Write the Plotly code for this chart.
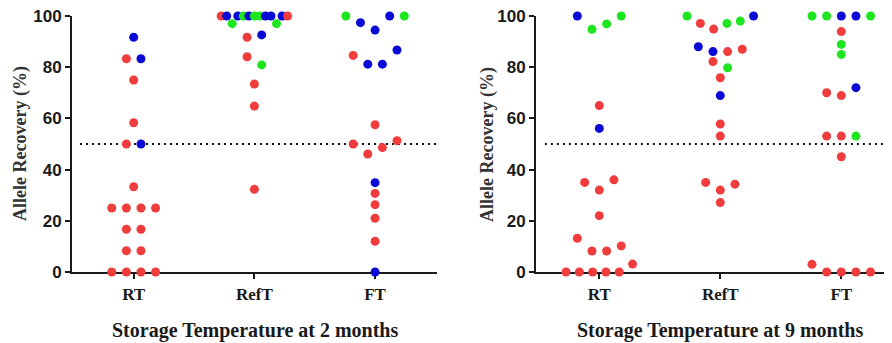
import plotly.graph_objects as go

# ---------------- data ----------------
CATEGORIES = ["RT", "RefT", "FT"]
PANEL_TITLES = ["Storage Temperature at 2 months", "Storage Temperature at 9 months"]
Y_TITLE = "Allele Recovery (%)"
Y_TICKS = [0, 20, 40, 60, 80, 100]
THRESHOLD = 50

# sample sets: S1 (red), S2 (blue), S3 (green)
# --- 2 months ---
RT_2M_VALUES = [91.7, 83.3, 83.3, 75.0, 58.3, 50.0, 50.0, 33.3,
                25.0, 25.0, 25.0, 25.0, 16.7, 16.7, 8.3, 8.3, 0, 0, 0, 0]
RT_2M_SETS = ["S2", "S1", "S2", "S1", "S1", "S1", "S2", "S1",
              "S1", "S1", "S1", "S1", "S1", "S1", "S1", "S1", "S1", "S1", "S1", "S1"]

REFT_2M_VALUES = [100, 100, 97.0, 100, 100, 100, 100, 100, 100, 100, 97.0, 100, 100,
                  91.7, 92.6, 84.1, 80.9, 73.4, 64.8, 32.3]
REFT_2M_SETS = ["S1", "S2", "S3", "S2", "S3", "S2", "S3", "S3", "S2", "S2", "S3", "S2", "S1",
                "S1", "S2", "S1", "S3", "S1", "S1", "S1"]

FT_2M_VALUES = [100, 97.4, 94.5, 100, 100,
                84.6, 81.2, 81.2, 86.7,
                57.5,
                50.0, 46.1, 48.6, 51.3,
                34.9, 30.7, 26.3, 21.0, 12.0, 0]
FT_2M_SETS = ["S3", "S2", "S2", "S2", "S3",
              "S1", "S2", "S2", "S2",
              "S1",
              "S1", "S1", "S1", "S1",
              "S2", "S1", "S1", "S1", "S1", "S2"]

# --- 9 months ---
RT_9M_VALUES = [100, 94.8, 96.9, 100,
                65.0, 56.1,
                35.0, 32.0, 36.0,
                22.0,
                13.2, 8.2, 8.2, 10.2,
                0, 0, 0, 0, 0, 3.1]
RT_9M_SETS = ["S2", "S3", "S3", "S3",
              "S1", "S2",
              "S1", "S1", "S1",
              "S1",
              "S1", "S1", "S1", "S1",
              "S1", "S1", "S1", "S1", "S1", "S1"]

REFT_9M_VALUES = [100, 97.1, 94.9, 97.1, 98.0, 100,
                  88.0, 86.1, 86.1, 87.0,
                  82.2, 79.8,
                  75.9, 68.9, 57.8, 53.1,
                  35.0, 32.0, 34.3,
                  27.1]
REFT_9M_SETS = ["S3", "S1", "S1", "S3", "S3", "S2",
                "S2", "S2", "S1", "S1",
                "S1", "S3",
                "S1", "S2", "S1", "S1",
                "S1", "S1", "S1",
                "S1"]

FT_9M_VALUES = [100, 100, 100, 100, 100,
                93.9, 88.9, 85.0,
                70.0, 68.9, 72.0,
                53.1, 53.1, 53.1,
                45.0,
                3.0, 0, 0, 0, 0]
FT_9M_SETS = ["S3", "S3", "S2", "S2", "S3",
              "S1", "S3", "S3",
              "S1", "S1", "S2",
              "S1", "S1", "S3",
              "S1",
              "S1", "S1", "S1", "S1", "S1"]

PANELS = [
    [(RT_2M_VALUES, RT_2M_SETS), (REFT_2M_VALUES, REFT_2M_SETS), (FT_2M_VALUES, FT_2M_SETS)],
    [(RT_9M_VALUES, RT_9M_SETS), (REFT_9M_VALUES, REFT_9M_SETS), (FT_9M_VALUES, FT_9M_SETS)],
]

# ---------------- style ----------------
SET_COLORS = {"S1": "#f03c3c", "S2": "#0a0ad6", "S3": "#1ee61e"}
AXIS_COLOR = "#1a1a1a"
PAGE_W, PAGE_H = 892, 343
BODY_MARGIN = 8                      # default page body margin
W, H = PAGE_W - BODY_MARGIN, PAGE_H - BODY_MARGIN


def px_x(px):   # page pixel -> paper fraction
    return (px - BODY_MARGIN) / W


def px_y(py):
    return 1 - (py - BODY_MARGIN) / H


def swarm_offsets(values, tol=3.6, step=0.121, max_width=0.55):
    """Centered rows of points whose values chain within `tol`."""
    order = sorted(range(len(values)), key=lambda i: -values[i])
    clusters = []
    for i in order:
        if clusters and values[clusters[-1][-1]] - values[i] <= tol:
            clusters[-1].append(i)
        else:
            clusters.append([i])
    offs = [0.0] * len(values)
    for c in clusters:
        c = sorted(c)
        n = len(c)
        s = step if n < 2 else min(step, max_width / (n - 1))
        for k, i in enumerate(c):
            offs[i] = (k - (n - 1) / 2) * s
    return offs


fig = go.Figure()

x_domains = [[px_x(72), px_x(437)], [px_x(536), 1.0]]
x_ranges = [[-0.511, 2.513], [-0.523, 2.419]]
y_domain = [px_y(272), px_y(16)]

for p, panel in enumerate(PANELS):
    xs, ys, cols = [], [], []
    for ci, (vals, sets) in enumerate(panel):
        offs = swarm_offsets(vals)
        for v, s, o in zip(vals, sets, offs):
            xs.append(ci + o)
            ys.append(v)
            cols.append(SET_COLORS[s])
    suffix = "" if p == 0 else "2"
    fig.add_trace(go.Scatter(
        x=xs, y=ys, mode="markers",
        marker=dict(size=9, color=cols, line=dict(width=0)),
        cliponaxis=False, showlegend=False, hoverinfo="y",
        xaxis="x" + suffix, yaxis="y" + suffix,
    ))

axis_common_x = dict(
    tickvals=[0, 1, 2], ticktext=CATEGORIES,
    showline=True, linecolor=AXIS_COLOR, linewidth=2,
    ticks="outside", ticklen=5, tickwidth=2, tickcolor=AXIS_COLOR,
    tickfont=dict(family="Liberation Serif", size=17, color=AXIS_COLOR, weight="bold"),
    ticklabelstandoff=1, ticklabeloverflow="allow",
    showgrid=False, zeroline=False, layer="below traces", fixedrange=True,
    automargin=False,
)
axis_common_y = dict(
    range=[0, 100], tickvals=Y_TICKS,
    showline=True, linecolor=AXIS_COLOR, linewidth=2,
    ticks="outside", ticklen=5, tickwidth=2, tickcolor=AXIS_COLOR,
    tickfont=dict(family="Liberation Sans", size=17, color=AXIS_COLOR, weight="bold"),
    ticklabeloverflow="allow",
    showgrid=False, zeroline=False, layer="below traces", domain=y_domain, fixedrange=True,
    automargin=False,
)

fig.update_layout(
    width=W, height=H,
    margin=dict(l=0, r=0, t=0, b=0),
    paper_bgcolor="white", plot_bgcolor="white",
    xaxis=dict(domain=x_domains[0], range=x_ranges[0], anchor="y", **axis_common_x),
    yaxis=dict(anchor="x", **axis_common_y),
    xaxis2=dict(domain=x_domains[1], range=x_ranges[1], anchor="y2", **axis_common_x),
    yaxis2=dict(anchor="x2", **axis_common_y),
)

# threshold lines
for xr, yr, x0 in [("x domain", "y", 0.022), ("x2 domain", "y2", 0.025)]:
    fig.add_shape(type="line", xref=xr, yref=yr, x0=x0, x1=1, y0=THRESHOLD, y1=THRESHOLD,
                  line=dict(color="#111111", width=2.2, dash="2px,4px"), layer="below")

# titles
for title, cx in zip(PANEL_TITLES, [255, 720]):
    fig.add_annotation(text=title, xref="paper", yref="paper", x=px_x(cx), y=px_y(330),
                       showarrow=False, xanchor="center", yanchor="middle",
                       font=dict(family="Liberation Serif", size=20, color=AXIS_COLOR, weight="bold"))
for cx in [20, 487]:
    fig.add_annotation(text=Y_TITLE, xref="paper", yref="paper", x=px_x(cx), y=px_y(144),
                       showarrow=False, xanchor="center", yanchor="middle", textangle=-90,
                       font=dict(family="Liberation Serif", size=18, color="#333333", weight="bold"))

fig.write_html("out.html")
